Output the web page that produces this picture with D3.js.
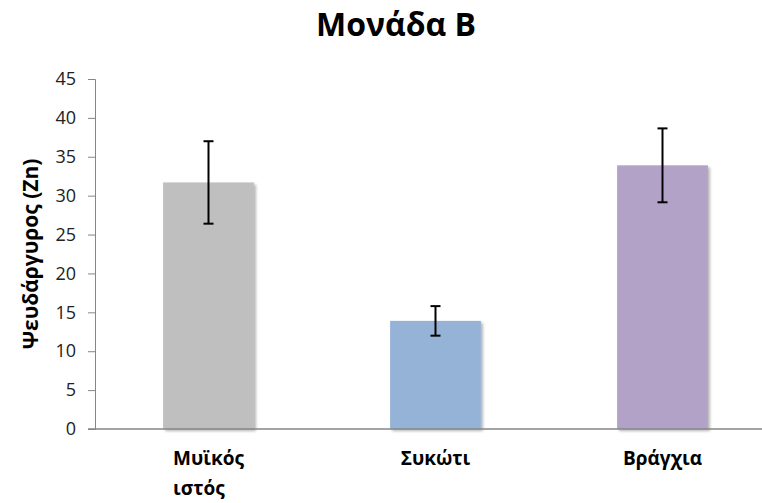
<!DOCTYPE html>
<html>
<head>
<meta charset="utf-8">
<script src="https://cdn.jsdelivr.net/npm/d3@7"></script>
<style>
  html, body { margin: 0; padding: 0; background: #fff; }
  svg { display: block; }
</style>
</head>
<body>
<svg id="chart" width="762" height="503"></svg>
<script>
const categories = [["Μυϊκός", "ιστός"], ["Συκώτι"], ["Βράγχια"]];
const values = [31.7, 13.9, 33.9];
const errors = [5.3, 1.9, 4.75];
const yTicks = [0, 5, 10, 15, 20, 25, 30, 35, 40, 45];
const colors = ["#bfbfbf", "#95b3d7", "#b3a2c7"];
const title = "Μονάδα Β";
const yLabel = "Ψευδάργυρος (Zn)";

const svg = d3.select("#chart");
const font = "'Open Sans', 'Noto Sans', sans-serif";

const defs = svg.append("defs");
const f = defs.append("filter").attr("id", "shadow").attr("x", "-10%").attr("y", "-10%").attr("width", "130%").attr("height", "130%");
f.append("feGaussianBlur").attr("in", "SourceAlpha").attr("stdDeviation", 1.5);
f.append("feOffset").attr("dx", 2).attr("dy", 2).attr("result", "ob");
f.append("feComponentTransfer").append("feFuncA").attr("type", "linear").attr("slope", 0.3);
const m = f.append("feMerge");
m.append("feMergeNode");
m.append("feMergeNode").attr("in", "SourceGraphic");

const idx = d3.range(values.length);
const x = d3.scaleBand().domain(idx).range([95, 776]).paddingInner(0.6).paddingOuter(0.3);
const y = d3.scaleLinear().domain([0, 45]).range([429, 79]);

// Title
svg.append("text")
  .attr("x", 396).attr("y", 36)
  .attr("text-anchor", "middle")
  .style("font-family", font).style("font-weight", "bold").style("font-size", "32px")
  .text(title);

// Bars
svg.append("g").selectAll("rect").data(idx).join("rect")
  .attr("x", i => x(i)).attr("width", x.bandwidth())
  .attr("y", i => y(values[i])).attr("height", i => y(0) - y(values[i]))
  .attr("fill", i => colors[i])
  .attr("filter", "url(#shadow)");

// Y axis
const yAxis = svg.append("g").attr("transform", "translate(95,0)")
  .call(d3.axisLeft(y).tickValues(yTicks).tickSize(7).tickPadding(12));
yAxis.select(".domain").attr("stroke", "#868686");
yAxis.selectAll(".tick line").attr("stroke", "#868686");
yAxis.selectAll(".tick text").attr("fill", "#222").style("font-family", font).style("font-size", "18px");

// X axis line
svg.append("line").attr("x1", 88).attr("x2", 762).attr("y1", y(0)).attr("y2", y(0))
  .attr("stroke", "#868686").attr("stroke-width", 1.5);

// Error bars
const eb = svg.append("g").attr("stroke", "#000").attr("stroke-width", 2);
idx.forEach(i => {
  const cx = x(i) + x.bandwidth() / 2;
  eb.append("line").attr("x1", cx).attr("x2", cx).attr("y1", y(values[i] + errors[i])).attr("y2", y(values[i] - errors[i]));
  [values[i] + errors[i], values[i] - errors[i]].forEach(v => {
    eb.append("line").attr("x1", cx - 5).attr("x2", cx + 5).attr("y1", y(v)).attr("y2", y(v));
  });
});

// Category labels (multi-line labels left-aligned to first line)
const cl = svg.append("g").selectAll("text").data(idx).join("text")
  .attr("y", 465)
  .attr("text-anchor", "start")
  .style("font-family", font).style("font-weight", "bold").style("font-size", "19px").attr("fill", "#000");
cl.each(function(i) {
  const t = d3.select(this);
  const tspans = categories[i].map((line, k) =>
    t.append("tspan").attr("dy", k === 0 ? 0 : 30).text(line));
  const w = tspans[0].node().getComputedTextLength();
  const cx = x(i) + x.bandwidth() / 2;
  tspans.forEach(s => s.attr("x", cx - w / 2));
});

// Y label
svg.append("text")
  .attr("transform", "translate(38,254) rotate(-90)")
  .attr("text-anchor", "middle")
  .style("font-family", font).style("font-weight", "bold").style("font-size", "21px")
  .text(yLabel);
</script>
</body>
</html>
